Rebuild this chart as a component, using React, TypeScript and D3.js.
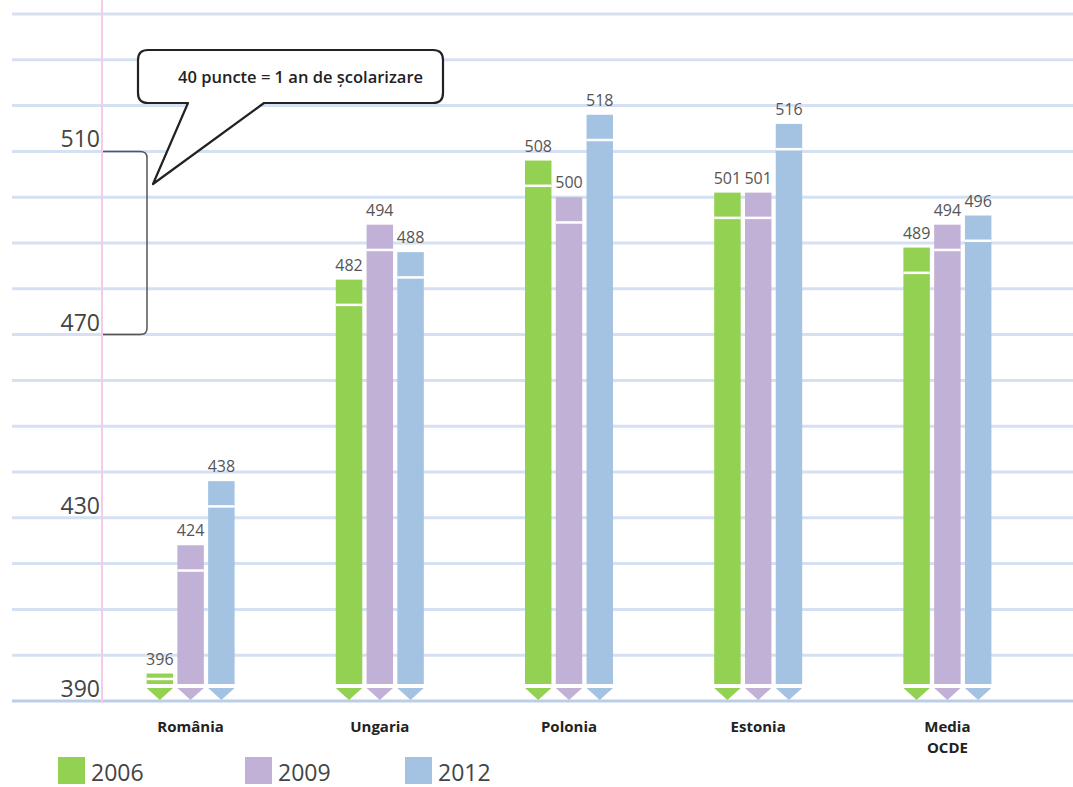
import React from "react";
import * as d3 from "d3";

const categories = ["România", "Ungaria", "Polonia", "Estonia", "Media OCDE"];
const years = ["2006", "2009", "2012"];
const values2006 = [396, 482, 508, 501, 489];
const values2009 = [424, 494, 500, 501, 494];
const values2012 = [438, 488, 518, 516, 496];
const axisLabels = [390, 430, 470, 510];
const calloutText = "40 puncte = 1 an de școlarizare";

const colors = ["#93d152", "#c2b1d6", "#a4c2e2"];
const W = 1073;
const H = 787;

export default function App() {
  const series = [values2006, values2009, values2012];
  const y = d3.scaleLinear().domain([390, 540]).range([701, 14]);
  const x = d3.scaleBand<string>().domain(categories).range([96, 1042]).padding(0);
  const xs = d3.scaleBand<string>().domain(years).range([-44, 44]).paddingInner(0.14);
  const bw = xs.bandwidth();
  const ruled = d3.range(390, 541, 10);
  const bodyBottom = 684;
  const tipTop = 688;
  const tipBottom = 700;
  const font = "'Open Sans', 'DejaVu Sans', sans-serif";
  const legendX = [58, 245, 405];

  const y510 = y(510);
  const y470 = y(470);

  return (
    <svg
      width={W}
      height={H}
      style={{ position: "absolute", left: 0, top: 0, background: "#fff" }}
      fontFamily={font}
    >
      <rect x={0} y={0} width={W} height={H} fill="#fff" />
      {ruled.map((v) => (
        <line
          key={v}
          x1={12}
          x2={W}
          y1={y(v)}
          y2={y(v)}
          stroke={v === 390 ? "#bccde7" : "#d5e0f2"}
          strokeWidth={3}
        />
      ))}
      <line x1={102} x2={102} y1={0} y2={y(390) + 2} stroke="#f6cbe9" strokeWidth={2} />

      {axisLabels.map((v) => (
        <text key={v} x={100} y={y(v) - 4} textAnchor="end" fontSize={23} fill="#444">
          {v}
        </text>
      ))}

      <path
        d={`M103,${y510} H140 Q147,${y510} 147,${y510 + 6} V${y470 - 6} Q147,${y470} 140,${y470} H103`}
        fill="none"
        stroke="#555"
        strokeWidth={1.5}
      />

      <path
        d="M148,50 H433 Q443,50 443,60 V93 Q443,103 433,103 H264 L153,184 L188,103 H148 Q138,103 138,93 V60 Q138,50 148,50 Z"
        fill="#fff"
        stroke="#222"
        strokeWidth={2.2}
        strokeLinejoin="round"
      />
      <text x={178} y={83} fontSize={16.5} fontWeight={600} fill="#222">
        {calloutText}
      </text>

      {categories.map((c, ci) => {
        const cx = (x(c) ?? 0) + x.bandwidth() / 2;
        return (
          <g key={c}>
            {years.map((yr, si) => {
              const v = series[si][ci];
              const x0 = cx + (xs(yr) ?? 0);
              const top = y(v);
              const sep = Math.min(top + 24, top + (bodyBottom - top) * 0.4);
              return (
                <g key={yr}>
                  <rect x={x0} y={top} width={bw} height={bodyBottom - top} fill={colors[si]} />
                  <rect x={x0} y={sep} width={bw} height={2.5} fill="#fff" />
                  <path
                    d={`M${x0},${tipTop} H${x0 + bw} L${x0 + bw / 2},${tipBottom} Z`}
                    fill={colors[si]}
                  />
                  <text
                    x={x0 + bw / 2}
                    y={top - 9}
                    textAnchor="middle"
                    fontSize={16}
                    fill="#555"
                  >
                    {v}
                  </text>
                </g>
              );
            })}
            {c.split(" ").map((word, wi) => (
              <text
                key={wi}
                x={cx}
                y={732 + wi * 21}
                textAnchor="middle"
                fontSize={15}
                fontWeight={700}
                fill="#222"
              >
                {word}
              </text>
            ))}
          </g>
        );
      })}

      {years.map((yr, i) => (
        <g key={yr}>
          <rect x={legendX[i]} y={757} width={27} height={27} fill={colors[i]} />
          <text x={legendX[i] + 33} y={781} fontSize={23} fill="#444">
            {yr}
          </text>
        </g>
      ))}
    </svg>
  );
}
